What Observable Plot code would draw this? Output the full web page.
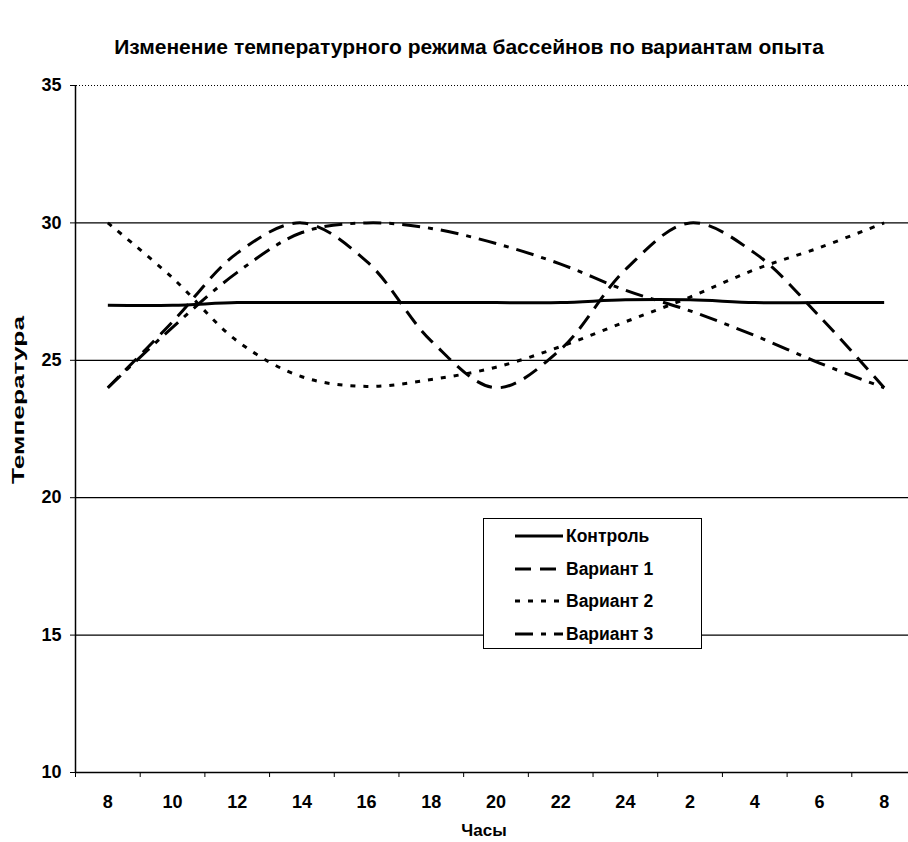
<!DOCTYPE html>
<html>
<head>
<meta charset="utf-8">
<script src="https://cdn.jsdelivr.net/npm/d3@7"></script>
<script src="https://cdn.jsdelivr.net/npm/@observablehq/plot@0.6"></script>
<style>
  html, body { margin: 0; padding: 0; background: #fff; }
  #wrap { position: relative; width: 908px; height: 842px; font-family: "Liberation Sans", Arial, sans-serif; font-weight: bold; color: #000; }
  #title { position: absolute; left: 69px; width: 800px; top: 34px; text-align: center; font-size: 21px; line-height: 26px; white-space: nowrap; }
  #ytitle { position: absolute; left: 0; top: 300px; }
  #chart { position: absolute; left: 0; top: 0; }
  .xlab { position: absolute; left: 484px; top: 831px; transform: translate(-50%, -50%); font-size: 17px; }
  #legend { position: absolute; left: 483px; top: 518px; width: 219px; height: 131px; border: 1.5px solid #000; background: #fff; box-sizing: border-box; }
  .row { position: absolute; left: 31px; height: 20px; display: flex; align-items: center; font-size: 17.5px; white-space: nowrap; }
  .row svg { margin-right: 3px; }
</style>
</head>
<body>
<div id="wrap">
  <div id="chart"></div>
  <div id="title">Изменение температурного режима бассейнов по вариантам опыта</div>
  <svg id="ytitle" width="40" height="200"><text transform="translate(24,100) rotate(-90)" text-anchor="middle" font-family="'Liberation Sans', Arial, sans-serif" font-weight="bold" font-size="17" textLength="168" lengthAdjust="spacingAndGlyphs">Температура</text></svg>
  <div class="xlab">Часы</div>
  <div id="legend"></div>
</div>
<script>
const hours = ["8","10","12","14","16","18","20","22","24","2","4","6","8"];
const seriesNames = ["Контроль","Вариант 1","Вариант 2","Вариант 3"];
const control  = [27.0,27.0,27.1,27.1,27.1,27.1,27.1,27.1,27.2,27.2,27.1,27.1,27.1];
const variant1 = [24.0,26.4,28.9,30.0,28.6,25.7,24.0,25.4,28.3,30.0,28.9,26.6,24.0];
const variant2 = [30.0,28.0,25.7,24.4,24.05,24.3,24.75,25.5,26.4,27.3,28.3,29.1,30.0];
const variant3 = [24.0,26.2,28.2,29.65,30.0,29.8,29.25,28.5,27.55,26.8,25.9,24.9,24.0];
const yTicks = [10,15,20,25,30,35];

const seriesValues = [control, variant1, variant2, variant3];
const dashes = [null, "16,9", "5,8", "18,8,5,8"];

const idx = hours.map((_, i) => i);
const halves = d3.range(-0.5, hours.length, 1);

const lineMarks = seriesValues.map((vals, s) =>
  Plot.line(vals.map((v, i) => ({i, v})), {
    x: "i", y: "v", curve: "catmull-rom",
    stroke: "#000", strokeWidth: 3,
    strokeDasharray: dashes[s] || undefined,
    strokeLinecap: "butt"
  })
);

const chart = Plot.plot({
  width: 908,
  height: 842,
  marginTop: 85,
  marginBottom: 70,
  marginLeft: 76,
  marginRight: 0,
  style: { fontFamily: "'Liberation Sans', Arial, sans-serif", fontWeight: "bold", fontSize: "17px", color: "#000", background: "#fff" },
  x: { type: "linear", domain: [-0.5, hours.length - 0.5], range: [75, 916] },
  y: { domain: [10, 35] },
  marks: [
    Plot.ruleY(yTicks.filter(t => t > 10 && t < 35), { stroke: "#000", strokeWidth: 1.2 }),
    Plot.ruleY([35], { stroke: "#000", strokeWidth: 1, strokeDasharray: "1,2" }),
    Plot.ruleY([10], { stroke: "#000", strokeWidth: 1.5 }),
    Plot.ruleX([-0.5], { y1: 10, y2: 35, stroke: "#000", strokeWidth: 1.5 }),
    Plot.axisY({ ticks: yTicks, tickSize: 6, tickPadding: 9, fontSize: 18, fontWeight: "bold", label: null, stroke: "#000" }),
    Plot.axisX({ ticks: idx, tickFormat: i => hours[i], tickSize: 0, tickPadding: 23, fontSize: 18, fontWeight: "bold", label: null }),
    Plot.axisX({ ticks: halves, tickFormat: () => "", tickSize: 5, label: null, stroke: "#000" }),
    ...lineMarks
  ]
});
document.getElementById("chart").appendChild(chart);

// legend
const legend = document.getElementById("legend");
const rowTops = [7, 40, 72, 105];
seriesNames.forEach((name, s) => {
  const row = document.createElement("div");
  row.className = "row";
  row.style.top = rowTops[s] + "px";
  const dash = dashes[s] ? ` stroke-dasharray="${dashes[s]}"` : "";
  row.innerHTML = `<svg width="48" height="10"><line x1="0" y1="5" x2="48" y2="5" stroke="#000" stroke-width="3"${dash}/></svg><span>${name}</span>`;
  legend.appendChild(row);
});
</script>
</body>
</html>
